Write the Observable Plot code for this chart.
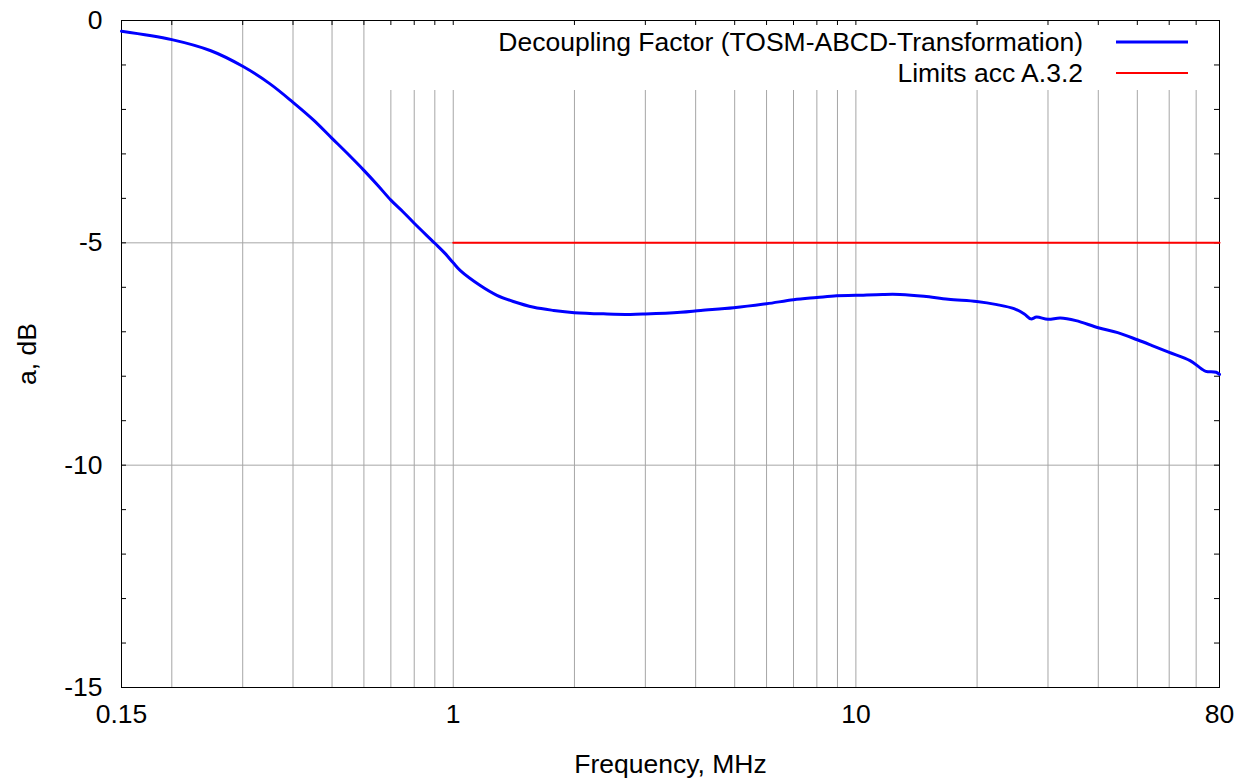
<!DOCTYPE html>
<html>
<head>
<meta charset="utf-8">
<script src="https://cdn.jsdelivr.net/npm/d3@7"></script>
<script src="https://cdn.jsdelivr.net/npm/@observablehq/plot@0.6"></script>
<style>
  html, body { margin: 0; padding: 0; background: #fff; }
  #chart { width: 1244px; height: 783px; }
</style>
</head>
<body>
<div id="chart"></div>
<script>
// ---- data ----
const freqMHz = [0.15, 0.2, 0.25, 0.3, 0.35, 0.4, 0.45, 0.5, 0.55, 0.6, 0.65, 0.7, 0.75, 0.8, 0.9, 0.95, 1.0,
  1.04, 1.167, 1.284, 1.41, 1.585, 1.776, 2.0, 2.41, 2.754, 3.0, 3.67, 4.12, 4.97, 6.0, 7.0, 8.0, 8.96, 10.0,
  11.65, 12.86, 14.76, 16.96, 19.96, 22.4, 24.7, 26.2, 27.2, 28.1, 30.0, 32.2, 35.2, 40.0, 44.7, 50.0, 54.4,
  59.8, 67.6, 72.1, 74.0, 78.5, 80.0];
const decouplingDb = [-0.24, -0.43, -0.68, -1.03, -1.42, -1.84, -2.24, -2.65, -3.02, -3.37, -3.71, -4.04, -4.30, -4.56, -5.01, -5.22, -5.45,
  -5.62, -5.96, -6.18, -6.32, -6.45, -6.52, -6.57, -6.60, -6.61, -6.60, -6.56, -6.52, -6.46, -6.37, -6.28, -6.23, -6.19, -6.18,
  -6.16, -6.16, -6.20, -6.27, -6.32, -6.39, -6.48, -6.60, -6.71, -6.67, -6.72, -6.69, -6.75, -6.91, -7.02, -7.18, -7.31,
  -7.46, -7.65, -7.83, -7.89, -7.91, -7.96];
const limitFreq = [1, 80];
const limitDb = [-5, -5];

const gridFreq = [0.2, 0.3, 0.4, 0.5, 0.6, 0.7, 0.8, 0.9, 1, 2, 3, 4, 5, 6, 7, 8, 9, 10, 20, 30, 40, 50, 60, 70];
const xTickValues = [0.15, 1, 10, 80];
const yTickValues = [0, -5, -10, -15];
const yGrid = [-5, -10];
const yMinor = [-1, -2, -3, -4, -5, -6, -7, -8, -9, -10, -11, -12, -13, -14];

const seriesNames = ["Decoupling Factor (TOSM-ABCD-Transformation)", "Limits acc A.3.2"];
const seriesColors = ["#0000ff", "#ff0000"];
const seriesWidths = [3, 2];

// ---- layout ----
const W = 1244, H = 783;
const mL = 121, mR = 25, mT = 20, mB = 96;
const frameW = W - mL - mR, frameH = H - mT - mB;
const FONT = "'Liberation Sans', Arial, Helvetica, sans-serif";
const FS = 26.5;

const decoupling = freqMHz.map((f, i) => ({f, db: decouplingDb[i]}));
const limits = limitFreq.map((f, i) => ({f, db: limitDb[i]}));

function legendMark(index, scales, values, dims) {
  const right = dims.width - dims.marginRight;
  const top = dims.marginTop;
  const g = d3.create("svg:g");
  g.append("rect")
    .attr("x", right - 846).attr("y", top + 1)
    .attr("width", 845).attr("height", 69)
    .attr("fill", "#fff");
  seriesNames.forEach((name, i) => {
    const yy = top + 22 + i * 31;
    g.append("text")
      .attr("x", right - 136).attr("y", yy).attr("dy", "0.35em")
      .attr("text-anchor", "end")
      .attr("font-family", FONT).attr("font-size", FS)
      .attr("fill", "#000")
      .text(name);
    g.append("line")
      .attr("x1", right - 103).attr("x2", right - 31)
      .attr("y1", yy).attr("y2", yy)
      .attr("stroke", seriesColors[i]).attr("stroke-width", seriesWidths[i]);
  });
  return g.node();
}

const chart = Plot.plot({
  width: W, height: H,
  marginLeft: mL, marginRight: mR, marginTop: mT, marginBottom: mB,
  style: {fontFamily: FONT, fontSize: FS + "px", color: "#000", background: "#fff"},
  x: {type: "log", domain: [0.15, 80]},
  y: {domain: [-15, 0]},
  marks: [
    Plot.ruleX(gridFreq, {x: d => d, stroke: "#a6a6a6", strokeWidth: 1}),
    Plot.ruleY(yGrid, {y: d => d, stroke: "#a6a6a6", strokeWidth: 1}),
    legendMark,
    Plot.tickX(gridFreq, {x: d => d, insetBottom: frameH - 5, stroke: "#000", strokeWidth: 1}),
    Plot.tickY(yMinor, {y: d => d, insetRight: frameW - 5, stroke: "#000", strokeWidth: 1}),
    Plot.tickY(yMinor, {y: d => d, insetLeft: frameW - 5, stroke: "#000", strokeWidth: 1}),
    Plot.frame({stroke: "#000", strokeWidth: 1}),
    Plot.text(xTickValues, {x: d => d, frameAnchor: "bottom", text: d => String(d),
      lineAnchor: "top", dy: 17, fontSize: FS, fill: "#000"}),
    Plot.axisX({ticks: [], tickSize: 0, label: "Frequency, MHz", labelAnchor: "center",
      labelOffset: 85, labelArrow: "none", fontSize: FS}),
    Plot.axisY({ticks: yTickValues, tickFormat: d => String(d), tickSize: 0, tickPadding: 19,
      fontSize: FS, label: "a, dB", labelAnchor: "center", labelOffset: 104, labelArrow: "none"}),
    Plot.line(limits, {x: "f", y: "db", stroke: seriesColors[1], strokeWidth: seriesWidths[1]}),
    Plot.line(decoupling, {x: "f", y: "db", stroke: seriesColors[0], strokeWidth: seriesWidths[0], curve: "catmull-rom"})
  ]
});
document.getElementById("chart").appendChild(chart);
</script>
</body>
</html>
